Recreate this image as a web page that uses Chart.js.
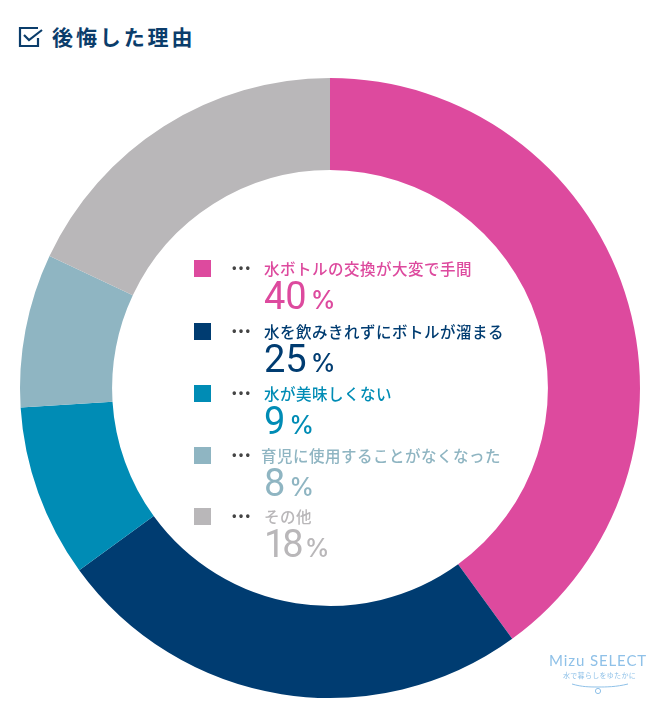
<!DOCTYPE html>
<html lang="ja">
<head>
<meta charset="utf-8">
<script src="https://cdn.jsdelivr.net/npm/chart.js@4"></script>
<style>
html, body { margin: 0; background: #fff; }
#wrap { position: relative; width: 660px; height: 710px; overflow: hidden; font-family: "Noto Sans CJK JP", sans-serif; }
#donut-box { position: absolute; left: 10px; top: 68px; width: 640px; height: 640px; }
#title { position: absolute; left: 52px; top: 21px; font-size: 21px; line-height: 30px; font-weight: 700; letter-spacing: 2.9px; color: #0b3d6b; white-space: nowrap; }
#icon { position: absolute; left: 18px; top: 25px; }
.swatch { position: absolute; left: 194px; width: 17px; height: 17px; }
.dots { position: absolute; left: 232px; font-size: 12px; line-height: 12px; font-weight: 700; letter-spacing: 2.2px; color: #444; }
.label { position: absolute; font-size: 15.5px; line-height: 20px; font-weight: 500; letter-spacing: 0.5px; white-space: nowrap; }
.num { position: absolute; left: 264px; font-family: Roboto, sans-serif; font-weight: 400; font-size: 38px; line-height: 40px; white-space: nowrap; }
.num span { font-family: Inter, sans-serif; font-size: 25px; font-weight: 500; margin-left: 4px; }
#logo { position: absolute; left: 549px; top: 650px; color: #8fc1e8; font-family: Lato, sans-serif; font-size: 15px; line-height: 20px; font-weight: 400; letter-spacing: 0.9px; white-space: nowrap; }
#logo small { position: absolute; left: 14px; top: 20px; font-family: "Noto Sans CJK JP", sans-serif; font-size: 7px; line-height: 10px; font-weight: 400; letter-spacing: 0.3px; }
#logo svg { position: absolute; left: 23px; top: 33px; }
</style>
</head>
<body>
<div id="wrap">
  <svg id="icon" width="26" height="24" viewBox="0 0 26 24" fill="none" stroke="#0b3d6b" stroke-width="2.2">
    <path d="M20 3H2v18h18v-8"/>
    <path d="M6 10l5 5L24 5"/>
  </svg>
  <div id="title">後悔した理由</div>
  <div id="donut-box"><canvas id="donut"></canvas></div>
  <div id="legend"></div>
  <div id="logo">Mizu SELECT<small>水で暮らしをゆたかに</small>
    <svg width="56" height="14" viewBox="0 0 56 14" fill="none" stroke="#8fc1e8" stroke-width="1">
      <path d="M0 1c10 3 18 3 26 3s18 0 30-3"/>
      <circle cx="26" cy="8" r="2.6"/>
    </svg>
  </div>
</div>
<script>
// 後悔した理由 (%)
const rows = [
    { label: '水ボトルの交換が大変で手間', value: 40, color: '#dd4a9e', y: 260, labelX: 264, numTop: 276 },
    { label: '水を飲みきれずにボトルが溜まる', value: 25, color: '#003c71', y: 323, labelX: 264, numTop: 339 },
    { label: '水が美味しくない', value: 9, color: '#008cb5', y: 385, labelX: 264, numTop: 401 },
    { label: '育児に使用することがなくなった', value: 8, color: '#8fb5c2', y: 447, labelX: 261, numTop: 463 },
    { label: 'その他', value: 18, color: '#b9b7b9', y: 508, labelX: 264, numTop: 524, numGap: -3 }
];

new Chart(document.getElementById('donut'), {
    type: 'doughnut',
    data: {
        labels: rows.map(r => r.label),
        datasets: [{
            data: rows.map(r => r.value),
            backgroundColor: rows.map(r => r.color),
            borderWidth: 0
        }]
    },
    options: {
        responsive: true,
        maintainAspectRatio: false,
        animation: false,
        cutout: '70.3%',
        layout: { padding: 10 },
        plugins: { legend: { display: false }, tooltip: { enabled: false } }
    }
});

document.getElementById('legend').innerHTML = rows.map(r => `
    <div class="swatch" style="top:${r.y}px;background:${r.color}"></div>
    <div class="dots" style="top:${r.y + 1}px">•••</div>
    <div class="label" style="left:${r.labelX}px;top:${r.y - 2}px;color:${r.color}">${r.label}</div>
    <div class="num" style="top:${r.numTop}px;color:${r.color};letter-spacing:${r.numGap || 0}px">${r.value}<span style="letter-spacing:0">%</span></div>
`).join('');
</script>
</body>
</html>
